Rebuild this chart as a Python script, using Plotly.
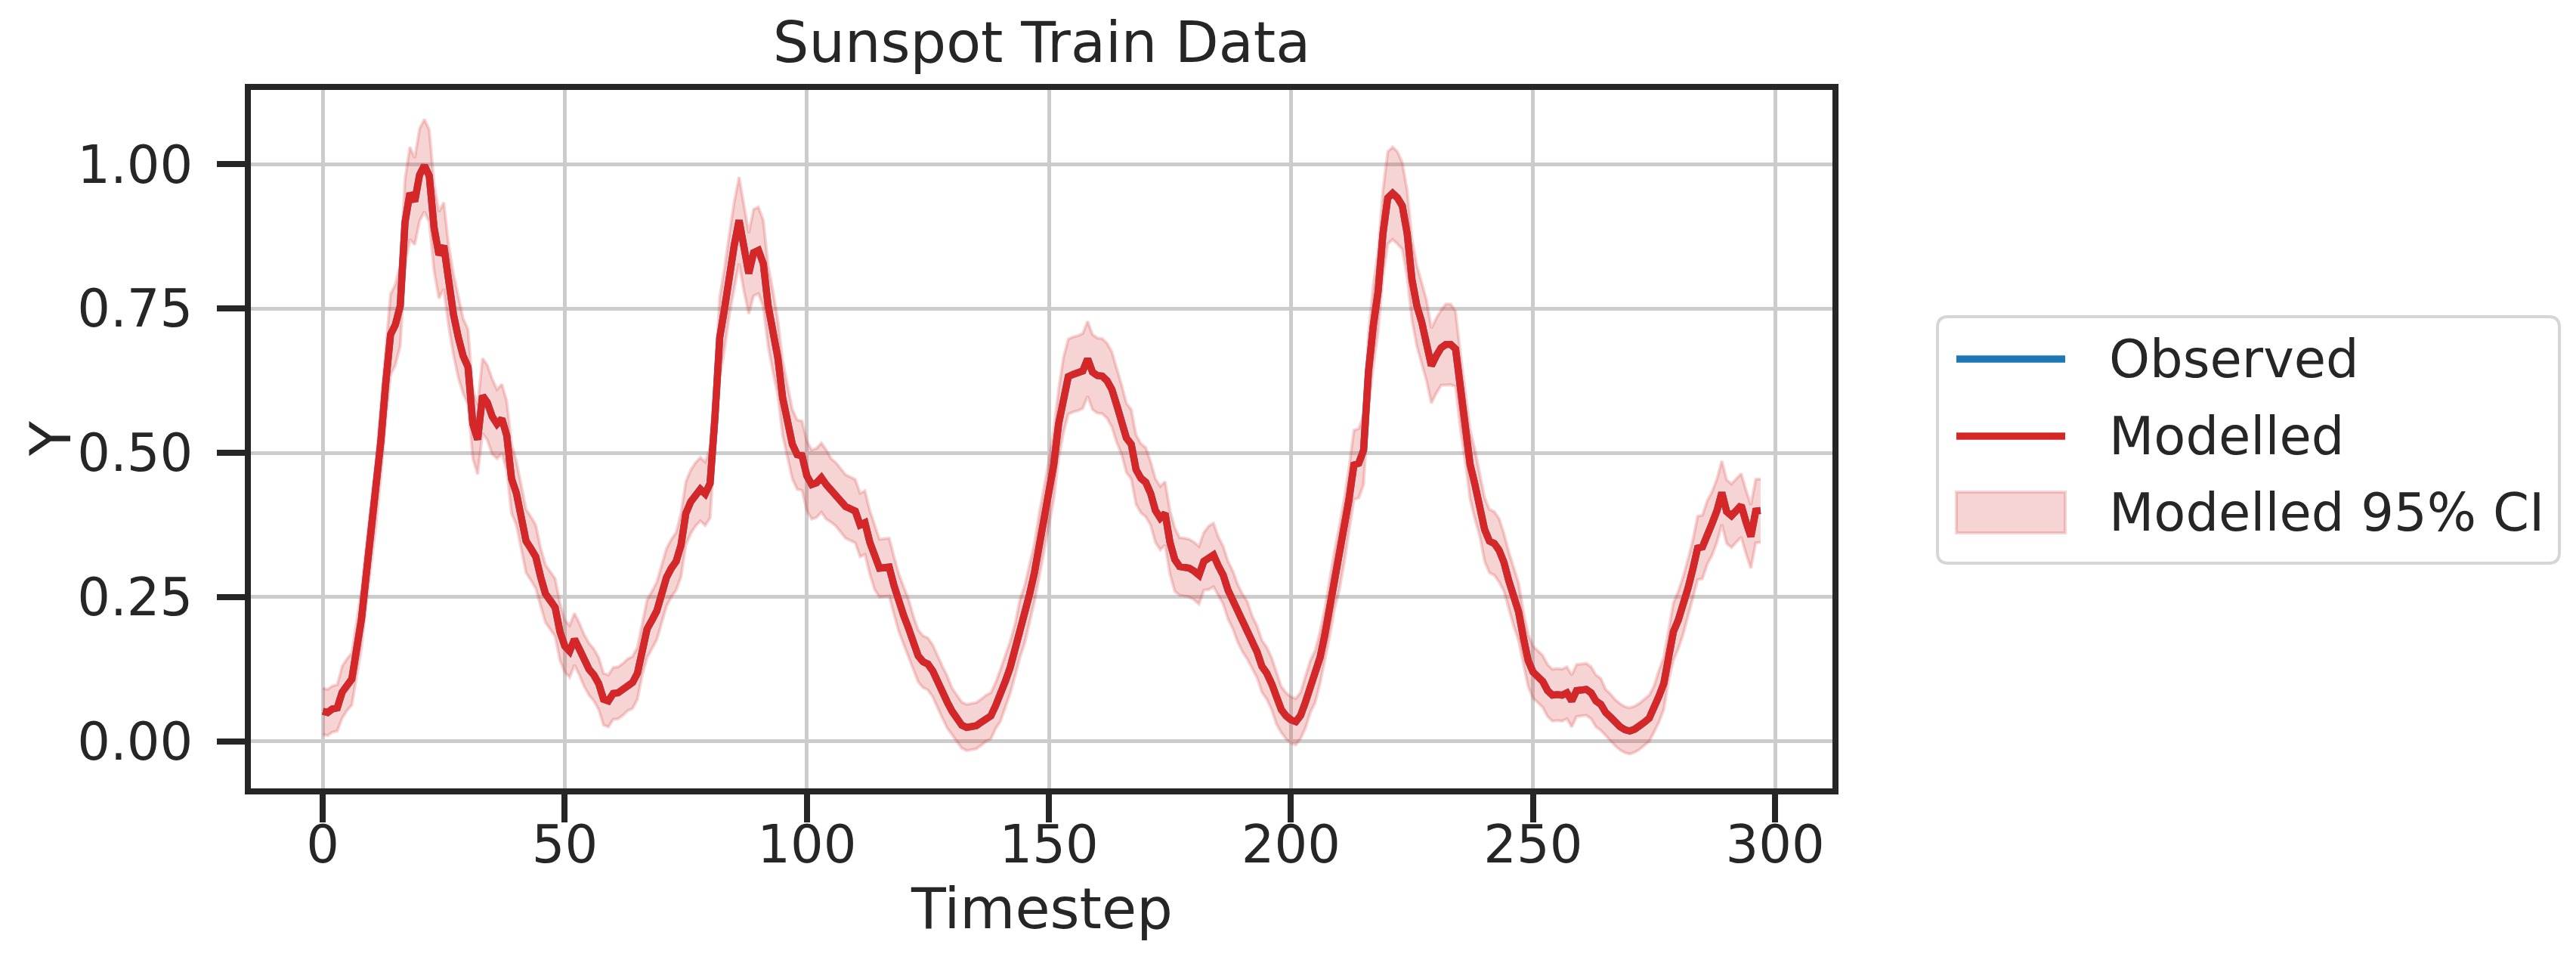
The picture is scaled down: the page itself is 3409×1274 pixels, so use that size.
import plotly.graph_objects as go

# Sunspot train series (normalised), one value per timestep
modelled = [
    0.052, 0.050, 0.056, 0.058, 0.085, 0.098, 0.108, 0.160, 0.212, 0.290,
    0.360, 0.430, 0.520, 0.620, 0.705, 0.722, 0.755, 0.900, 0.950, 0.936,
    0.982, 0.998, 0.980, 0.890, 0.843, 0.859, 0.790, 0.740, 0.700, 0.668,
    0.649, 0.550, 0.523, 0.599, 0.587, 0.563, 0.550, 0.559, 0.530, 0.455,
    0.430, 0.390, 0.347, 0.334, 0.320, 0.285, 0.256, 0.244, 0.232, 0.190,
    0.165, 0.156, 0.177, 0.160, 0.140, 0.125, 0.115, 0.100, 0.073, 0.070,
    0.083, 0.084, 0.090, 0.098, 0.102, 0.118, 0.160, 0.195, 0.210, 0.226,
    0.255, 0.284, 0.300, 0.312, 0.340, 0.395, 0.415, 0.428, 0.437, 0.429,
    0.447, 0.560, 0.700, 0.750, 0.810, 0.860, 0.903, 0.855, 0.811, 0.847,
    0.851, 0.828, 0.755, 0.710, 0.665, 0.595, 0.555, 0.515, 0.497, 0.495,
    0.460, 0.445, 0.448, 0.457, 0.445, 0.435, 0.428, 0.418, 0.407, 0.403,
    0.399, 0.375, 0.379, 0.345, 0.318, 0.300, 0.301, 0.302, 0.270, 0.240,
    0.218, 0.196, 0.172, 0.148, 0.138, 0.134, 0.122, 0.102, 0.085, 0.068,
    0.052, 0.040, 0.028, 0.024, 0.025, 0.027, 0.033, 0.040, 0.044, 0.062,
    0.080, 0.104, 0.128, 0.158, 0.195, 0.220, 0.255, 0.292, 0.340, 0.385,
    0.431, 0.480, 0.550, 0.600, 0.632, 0.636, 0.638, 0.642, 0.663, 0.640,
    0.634, 0.633, 0.625, 0.610, 0.583, 0.558, 0.526, 0.515, 0.471, 0.456,
    0.449, 0.430, 0.400, 0.387, 0.395, 0.345, 0.315, 0.303, 0.302, 0.300,
    0.295, 0.288, 0.312, 0.318, 0.323, 0.304, 0.288, 0.262, 0.245, 0.222,
    0.205, 0.192, 0.172, 0.155, 0.130, 0.118, 0.100, 0.075, 0.055, 0.044,
    0.037, 0.034, 0.045, 0.068, 0.095, 0.112, 0.145, 0.185, 0.232, 0.280,
    0.318, 0.365, 0.420, 0.479, 0.482, 0.505, 0.640, 0.720, 0.780, 0.880,
    0.942, 0.950, 0.942, 0.928, 0.880, 0.800, 0.755, 0.727, 0.695, 0.651,
    0.668, 0.682, 0.688, 0.688, 0.680, 0.607, 0.545, 0.480, 0.445, 0.411,
    0.367, 0.347, 0.343, 0.331, 0.310, 0.278, 0.250, 0.225, 0.180, 0.140,
    0.120, 0.112, 0.104, 0.088, 0.080, 0.081, 0.080, 0.084, 0.070, 0.088,
    0.089, 0.090, 0.084, 0.070, 0.064, 0.050, 0.042, 0.032, 0.025, 0.020,
    0.018, 0.021, 0.026, 0.033, 0.040, 0.056, 0.078, 0.100, 0.150, 0.190,
    0.210, 0.235, 0.265, 0.298, 0.335, 0.337, 0.362, 0.378, 0.400, 0.431,
    0.398, 0.391, 0.400, 0.409, 0.380, 0.355, 0.399, 0.400,
]

# observed line sits under the modelled one almost everywhere
observed = list(modelled)

# half width of the 95% band at each timestep
ci_half = [
    0.040, 0.040, 0.040, 0.040, 0.045, 0.045, 0.045, 0.045, 0.050, 0.050,
    0.055, 0.055, 0.060, 0.065, 0.070, 0.070, 0.070, 0.075, 0.080, 0.075,
    0.080, 0.080, 0.080, 0.075, 0.075, 0.075, 0.070, 0.070, 0.070, 0.065,
    0.065, 0.060, 0.060, 0.065, 0.065, 0.065, 0.060, 0.060, 0.060, 0.060,
    0.055, 0.055, 0.055, 0.055, 0.055, 0.050, 0.050, 0.050, 0.050, 0.050,
    0.045, 0.045, 0.045, 0.045, 0.045, 0.045, 0.045, 0.045, 0.045, 0.045,
    0.045, 0.045, 0.045, 0.045, 0.045, 0.045, 0.045, 0.050, 0.050, 0.050,
    0.050, 0.050, 0.050, 0.050, 0.055, 0.055, 0.055, 0.055, 0.055, 0.055,
    0.060, 0.060, 0.070, 0.070, 0.070, 0.075, 0.075, 0.075, 0.070, 0.075,
    0.075, 0.075, 0.070, 0.070, 0.065, 0.065, 0.060, 0.060, 0.060, 0.060,
    0.060, 0.060, 0.060, 0.060, 0.060, 0.055, 0.055, 0.055, 0.055, 0.055,
    0.055, 0.055, 0.055, 0.055, 0.055, 0.050, 0.050, 0.050, 0.050, 0.050,
    0.050, 0.050, 0.045, 0.045, 0.045, 0.045, 0.045, 0.045, 0.045, 0.045,
    0.040, 0.040, 0.040, 0.040, 0.040, 0.040, 0.040, 0.040, 0.040, 0.040,
    0.045, 0.045, 0.045, 0.045, 0.050, 0.050, 0.050, 0.050, 0.055, 0.055,
    0.055, 0.060, 0.060, 0.065, 0.065, 0.065, 0.065, 0.065, 0.065, 0.065,
    0.065, 0.065, 0.065, 0.065, 0.065, 0.060, 0.060, 0.060, 0.060, 0.060,
    0.060, 0.055, 0.055, 0.055, 0.055, 0.055, 0.055, 0.050, 0.050, 0.050,
    0.050, 0.050, 0.050, 0.055, 0.055, 0.050, 0.050, 0.050, 0.050, 0.050,
    0.050, 0.050, 0.045, 0.045, 0.045, 0.045, 0.045, 0.045, 0.040, 0.040,
    0.040, 0.040, 0.040, 0.045, 0.045, 0.045, 0.045, 0.045, 0.050, 0.050,
    0.055, 0.055, 0.055, 0.060, 0.060, 0.060, 0.065, 0.070, 0.070, 0.075,
    0.080, 0.080, 0.080, 0.075, 0.075, 0.070, 0.070, 0.070, 0.070, 0.065,
    0.065, 0.065, 0.070, 0.070, 0.065, 0.065, 0.060, 0.060, 0.060, 0.055,
    0.055, 0.055, 0.055, 0.055, 0.050, 0.050, 0.050, 0.050, 0.045, 0.045,
    0.045, 0.045, 0.045, 0.045, 0.045, 0.045, 0.045, 0.045, 0.045, 0.045,
    0.045, 0.045, 0.045, 0.045, 0.045, 0.040, 0.040, 0.040, 0.040, 0.040,
    0.040, 0.040, 0.040, 0.040, 0.040, 0.040, 0.045, 0.045, 0.045, 0.050,
    0.050, 0.050, 0.050, 0.050, 0.055, 0.055, 0.055, 0.055, 0.055, 0.055,
    0.055, 0.055, 0.055, 0.055, 0.055, 0.055, 0.055, 0.055,
]

timesteps = list(range(len(modelled)))
ci_lower = [m - h for m, h in zip(modelled, ci_half)]
ci_upper = [m + h for m, h in zip(modelled, ci_half)]

legend_labels = ['Observed', 'Modelled', 'Modelled 95% CI']

BLUE = '#1f77b4'
RED = '#d62728'
BAND = 'rgba(214,39,40,0.2)'
INK = '#262626'
FONT = 'DejaVu Sans'

W, H = 3409, 1274
L, R, T, B = 324, 992, 111, 239
PW, PH = W - L - R, H - T - B


def px(x):
    return (x - L) / PW


def py(y):
    return (H - B - y) / PH


fig = go.Figure()

fig.add_trace(go.Scatter(
    x=timesteps, y=ci_lower, mode='lines',
    line=dict(color=BAND, width=4), showlegend=False, hoverinfo='skip'
))
fig.add_trace(go.Scatter(
    x=timesteps, y=ci_upper, mode='lines', fill='tonexty', fillcolor=BAND,
    line=dict(color=BAND, width=4), name='Modelled 95% CI', showlegend=False
))
fig.add_trace(go.Scatter(
    x=timesteps, y=observed, mode='lines',
    line=dict(color=BLUE, width=9.4), name='Observed', showlegend=False
))
fig.add_trace(go.Scatter(
    x=timesteps, y=modelled, mode='lines',
    line=dict(color=RED, width=9.4), name='Modelled', showlegend=False
))

axis_common = dict(
    showgrid=True, gridcolor='#cccccc', gridwidth=5,
    showline=True, linecolor=INK, linewidth=8, mirror=True,
    ticks='outside', ticklen=37, tickwidth=8, tickcolor=INK,
    tickfont=dict(family=FONT, size=68.75, color=INK),
    zeroline=False,
)

fig.update_xaxes(range=[-14.85, 311.85], tick0=0, dtick=50,
                 ticklabelstandoff=-30, **axis_common)
fig.update_yaxes(range=[-0.0816, 1.129], tick0=0, dtick=0.25, tickformat='.2f',
                 ticklabelstandoff=18, **axis_common)

# legend drawn by hand so the keys match the long matplotlib handles
bx0, bx1, by0, by1, rad = 2556, 3379, 411, 737, 14
rx, ry = rad / PW, rad / PH
x0, x1, y0, y1 = px(bx0), px(bx1), py(by0), py(by1)
box_path = (
    f'M {x0 + rx},{y0} L {x1 - rx},{y0} Q {x1},{y0} {x1},{y0 - ry} '
    f'L {x1},{y1 + ry} Q {x1},{y1} {x1 - rx},{y1} '
    f'L {x0 + rx},{y1} Q {x0},{y1} {x0},{y1 + ry} '
    f'L {x0},{y0 - ry} Q {x0},{y0} {x0 + rx},{y0} Z'
)
shapes = [
    dict(type='path', path=box_path, xref='paper', yref='paper',
         fillcolor='white', line=dict(color='#d6d6d6', width=4), layer='above'),
    dict(type='line', xref='paper', yref='paper', x0=px(2581), x1=px(2725),
         y0=py(467), y1=py(467), line=dict(color=BLUE, width=9.4), layer='above'),
    dict(type='line', xref='paper', yref='paper', x0=px(2581), x1=px(2725),
         y0=py(569), y1=py(569), line=dict(color=RED, width=9.4), layer='above'),
    dict(type='rect', xref='paper', yref='paper', x0=px(2581), x1=px(2725),
         y0=py(697), y1=py(643), fillcolor=BAND, line=dict(color=BAND, width=4),
         layer='above'),
]
annotations = [
    dict(text=lab, x=px(2781), y=py(yy), xref='paper', yref='paper',
         xanchor='left', yanchor='middle', showarrow=False,
         font=dict(family=FONT, size=68.75, color=INK))
    for lab, yy in zip(legend_labels, [467, 569, 670])
]
# axis titles placed as text, matching the matplotlib label offsets
annotations.append(dict(
    text='Timestep', x=0.5, y=py(1194), xref='paper', yref='paper',
    xanchor='center', yanchor='middle', showarrow=False,
    font=dict(family=FONT, size=75, color=INK)
))
annotations.append(dict(
    text='Y', x=px(59), y=0.5, xref='paper', yref='paper', textangle=-90,
    xanchor='center', yanchor='middle', showarrow=False,
    font=dict(family=FONT, size=75, color=INK)
))

fig.update_layout(
    width=W, height=H,
    margin=dict(l=L, r=R, t=T, b=B, autoexpand=False),
    paper_bgcolor='white', plot_bgcolor='white',
    title=dict(text='Sunspot Train Data', x=0.5, xref='paper', xanchor='center',
               y=1 - 74 / H, yref='container', yanchor='bottom',
               font=dict(family=FONT, size=75, color=INK)),
    font=dict(family=FONT, color=INK),
    shapes=shapes, annotations=annotations,
    showlegend=False,
)

fig.write_html('out.html')
